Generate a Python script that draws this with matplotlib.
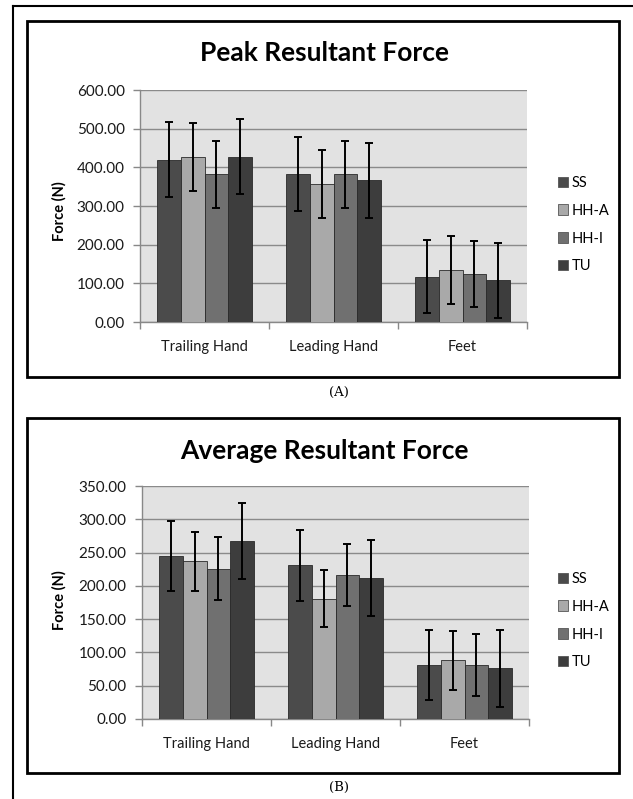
import matplotlib
matplotlib.use("Agg")
import matplotlib.pyplot as plt
from matplotlib.patches import Rectangle, Patch
from matplotlib.lines import Line2D
import numpy as np

categories = ["Trailing Hand", "Leading Hand", "Feet"]
series = ["SS", "HH-A", "HH-I", "TU"]
colors = ["#4b4b4b", "#a9a9a9", "#707070", "#3d3d3d"]

peak_values = {
    "SS":   [420, 382, 117],
    "HH-A": [427, 357, 134],
    "HH-I": [382, 382, 124],
    "TU":   [427, 367, 108],
}
peak_errors = {
    "SS":   [96, 96, 94],
    "HH-A": [88, 88, 88],
    "HH-I": [86, 86, 86],
    "TU":   [97, 97, 97],
}
avg_values = {
    "SS":   [245, 231, 81],
    "HH-A": [237, 181, 88],
    "HH-I": [226, 216, 81],
    "TU":   [268, 212, 76],
}
avg_errors = {
    "SS":   [53, 53, 53],
    "HH-A": [44, 43, 44],
    "HH-I": [47, 47, 47],
    "TU":   [57, 57, 58],
}
peak_ticks = [0, 100, 200, 300, 400, 500, 600]
avg_ticks = [0, 50, 100, 150, 200, 250, 300, 350]

W, H = 633, 799
fig = plt.figure(figsize=(W / 100, H / 100), dpi=100)
fig.patch.set_facecolor("white")

FONT = ["Lato", "DejaVu Sans"]


def fx(x):
    return x / W


def fy(y):
    return 1 - y / H


def add_box(x0, y0, x1, y1, lw=2.0):
    r = Rectangle((fx(x0), fy(y1)), fx(x1) - fx(x0), fy(y0) - fy(y1),
                  transform=fig.transFigure, fill=False, edgecolor="black",
                  linewidth=lw)
    fig.patches.append(r)


# outer frame lines (left and top)
fig.add_artist(Line2D([fx(13), fx(13)], [fy(6), 0], transform=fig.transFigure,
                      color="black", lw=1.5))
fig.add_artist(Line2D([fx(13), 1], [fy(6), fy(6)], transform=fig.transFigure,
                      color="black", lw=1.5))

label_text = {392: "(A)", 787: "(B)"}


def draw_chart(box, axrect, title, title_y, values, errors, ticks, label, label_y, legend_y):
    x0, y0, x1, y1 = box
    add_box(x0, y0, x1, y1)
    l, t, r, b = axrect
    ax = fig.add_axes([fx(l), fy(b), fx(r) - fx(l), fy(t) - fy(b)])
    ax.set_facecolor("#e2e2e2")
    n = len(series)
    width = 0.183
    x = np.arange(len(categories))
    handles = []
    for i, s in enumerate(series):
        pos = x + (i - (n - 1) / 2) * width
        ax.bar(pos, values[s], width=width, color=colors[i], edgecolor="#2a2a2a",
               linewidth=0.6, zorder=3)
        ax.errorbar(pos, values[s], yerr=errors[s], fmt="none", ecolor="black",
                    elinewidth=1.4, capsize=3.2, capthick=1.4, zorder=4)
        handles.append(Patch(facecolor=colors[i], edgecolor="#555555", linewidth=0.6))
    ax.set_xlim(-0.5, len(categories) - 0.5)
    ax.set_ylim(ticks[0], ticks[-1])
    ax.set_yticks(ticks)
    ax.set_yticklabels([f"{v:.2f}" for v in ticks], fontfamily=FONT, fontsize=11,
                       color="#1a1a1a")
    ax.set_xticks(np.arange(-0.5, len(categories), 1.0))
    ax.set_xticklabels([])
    ax.set_xticks(x, minor=True)
    ax.set_xticklabels(categories, minor=True, fontfamily=FONT, fontsize=10.5,
                       color="#1a1a1a")
    ax.tick_params(axis="x", which="minor", length=0, pad=13)
    ax.tick_params(axis="x", which="major", length=5, color="#888888", width=1)
    ax.tick_params(axis="y", length=5, color="#888888", width=1, pad=6)
    ax.grid(axis="y", color="#8a8a8a", linewidth=1.0, zorder=0)
    ax.set_axisbelow(True)
    for sp in ["top", "right"]:
        ax.spines[sp].set_visible(False)
    for sp in ["left", "bottom"]:
        ax.spines[sp].set_color("#888888")
        ax.spines[sp].set_linewidth(1.0)
    fig.text(fx(59), fy(label_y), "Force (N)", rotation=90, ha="center", va="center",
             fontfamily=FONT, fontweight="bold", fontsize=10.5)
    fig.text(fx(324), fy(title_y), title, ha="center", va="center",
             fontfamily=FONT, fontweight="bold", fontsize=19)
    fig.legend(handles, series, loc="upper left",
               bbox_to_anchor=(fx(552), fy(legend_y)), frameon=False,
               prop={"family": FONT, "size": 10.5}, handlelength=0.72, handleheight=0.72,
               handletextpad=0.25, labelspacing=0.95, borderaxespad=0)
    fig.text(fx(339), fy(label), label_text[label], ha="center", va="center",
             fontfamily="DejaVu Serif", fontsize=9.5)
    return ax


draw_chart((27, 21, 619, 377), (140, 90, 527, 322), "Peak Resultant Force", 53,
           peak_values, peak_errors, peak_ticks, 392, 211, 170)
draw_chart((27, 418, 619, 773), (142, 486, 529, 719), "Average Resultant Force", 451,
           avg_values, avg_errors, avg_ticks, 787, 600, 566)

fig.savefig("out.png", dpi=100, facecolor="white")
